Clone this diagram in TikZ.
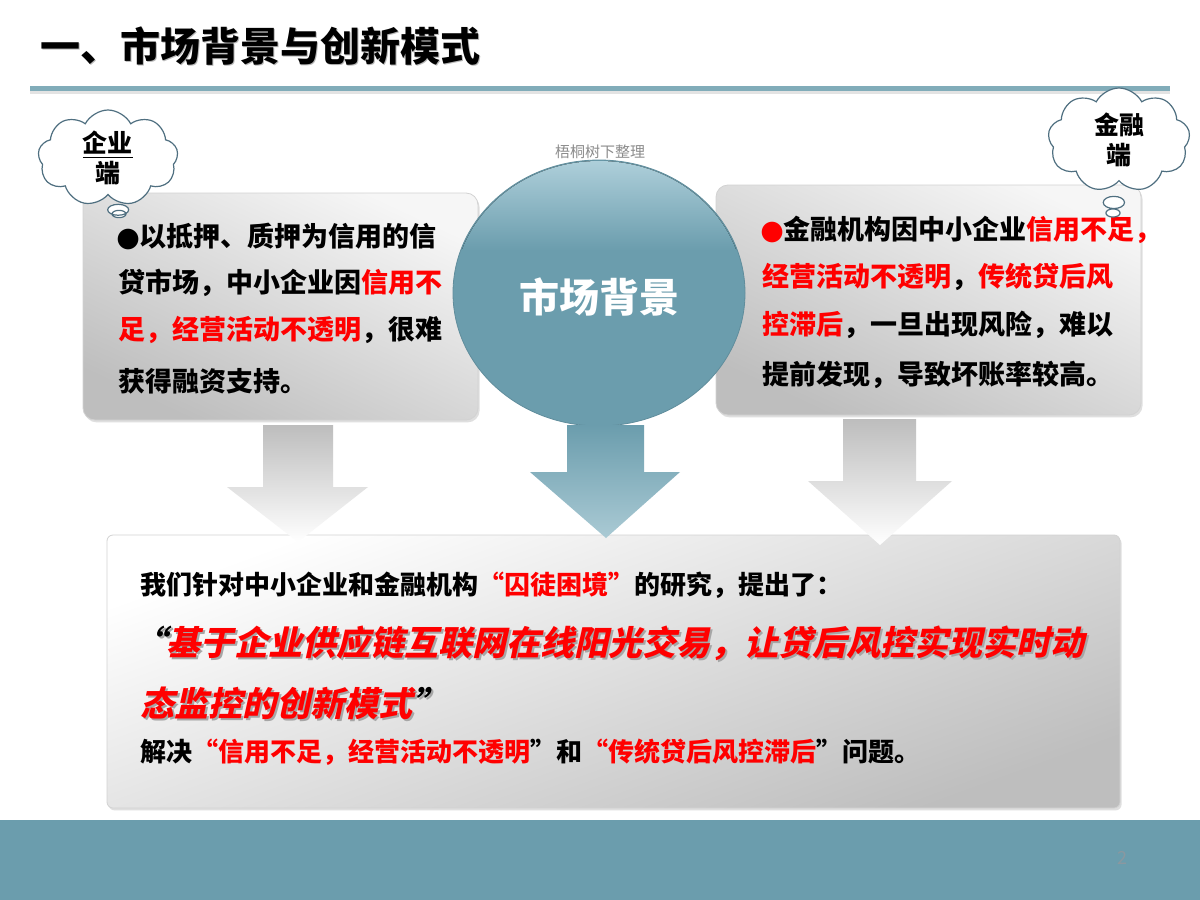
\documentclass[tikz,border=0pt]{standalone}
\usepackage{fontspec}
\setmainfont{Noto Sans CJK SC}
\newfontfamily\cjkit{Noto Sans CJK SC}[FakeSlant=0.22]
\newfontfamily\symf{DejaVu Sans}
\usetikzlibrary{shapes.callouts,shapes.symbols,shapes.geometric,shadows}
\definecolor{teal1}{HTML}{6B9DAD}
\definecolor{teallt}{HTML}{B2D2DD}
\definecolor{tealarrowlt}{HTML}{AACAD4}
\definecolor{rd}{HTML}{FF0000}
\definecolor{cloudline}{HTML}{4F6F80}
\definecolor{pgnum}{HTML}{8A98A0}
\definecolor{boxlt}{HTML}{F6F6F6}
\definecolor{boxdk}{HTML}{BEBEBE}
\definecolor{arrgray}{HTML}{BDBDBD}
\begin{document}
\begin{tikzpicture}[x=0.5pt,y=-0.5pt,
  panel/.style={draw=gray!35, line width=0.4pt, rounded corners=6pt,
    drop shadow={opacity=0.25, shadow xshift=0.8pt, shadow yshift=-1.2pt}},
  bt/.style={anchor=west, inner sep=0pt, font=\fontsize{13.5}{16}\selectfont\bfseries},
  bb/.style={anchor=west, inner sep=0pt, font=\fontsize{13}{16}\selectfont\bfseries},
  bi/.style={anchor=west, inner sep=0pt, font=\fontsize{17}{20}\selectfont\cjkit\bfseries},
  cloudbox/.style={cloud callout, draw=cloudline, line width=0.6pt, fill=white,
    cloud puffs=9, cloud puff arc=125, cloud ignores aspect,
    inner sep=0pt, align=center,
    font=\fontsize{12.5}{15}\selectfont\bfseries},
  grayarrow/.style={top color=arrgray, bottom color=white},
  tealarrow/.style={top color=teal1, bottom color=tealarrowlt}
]
\useasboundingbox (0,0) rectangle (1200,900);
\fill[white] (0,0) rectangle (1200,900);

% title
\node[anchor=west, inner sep=0pt, text=gray!55, font=\fontsize{20}{24}\selectfont\bfseries] (titleshadow) at (41.5,47.5) {一、市场背景与创新模式};
\node[anchor=west, inner sep=0pt, font=\fontsize{20}{24}\selectfont\bfseries] (title) at (40,46) {一、市场背景与创新模式};
\fill[teal1!85] (30,86) rectangle (1170,91);
\fill[gray!22] (30,91) rectangle (1170,94);

% side panels
\node[panel, top color=boxlt, bottom color=boxdk, shading angle=-25,
  minimum width=197.5pt, minimum height=113.5pt] (lbox) at (280.5,306.5) {};
\node[panel, top color=boxlt, bottom color=boxdk, shading angle=-25,
  minimum width=212.5pt, minimum height=115pt] (rbox) at (928.5,300) {};

% bottom panel
\node[panel, rounded corners=3pt, top color=white, bottom color=boxdk, shading angle=20,
  minimum width=506.5pt, minimum height=136.5pt] (bbox) at (613.5,671.5) {};

% centre circle
\node[ellipse, fill=teal1, draw=teal1!90!black, line width=0.4pt,
  minimum width=146pt, minimum height=133pt, inner sep=0pt] (circ) at (599,293) {};
\begin{scope}
  \clip (599,293) ellipse [x radius=72.5pt, y radius=66pt];
  \fill[top color=teallt, bottom color=teal1] (440,155) rectangle (760,250);
\end{scope}
\node[text=white, font=\fontsize{20}{24}\selectfont\bfseries] (circtext) at (599,297) {市场背景};
\node[text=gray!90, font=\fontsize{7.5}{9}\selectfont] (wm) at (600,152) {梧桐树下整理};

% text left
\node[bt] (l1) at (116,236) {{\symf●}以抵押、质押为信用的信};
\node[bt] (l2) at (118,283) {贷市场，中小企业因\textcolor{rd}{信用不}};
\node[bt] (l3) at (118,330) {\textcolor{rd}{足，经营活动不透明}，很难};
\node[bt] (l4) at (118,381) {获得融资支持。};

% text right
\node[bt] (r1) at (760,230) {\textcolor{rd}{\symf●}金融机构因中小企业\textcolor{rd}{信用不足，}};
\node[bt] (r2) at (762,277) {\textcolor{rd}{经营活动不透明}，\textcolor{rd}{传统贷后风}};
\node[bt] (r3) at (762,325) {\textcolor{rd}{控滞后}，一旦出现风险，难以};
\node[bt] (r4) at (762,375) {提前发现，导致坏账率较高。};

% block arrows
\path[grayarrow] (263,425) -- (333,425) -- (333,487) -- (368,487) -- (298,542) -- (227,487) -- (263,487) -- cycle;
\path[tealarrow] (567,425) -- (644,425) -- (644,472) -- (680,472) -- (606,538) -- (530,472) -- (567,472) -- cycle;
\path[grayarrow] (843,419) -- (916,419) -- (916,481) -- (952,481) -- (880,545) -- (808,481) -- (843,481) -- cycle;

% bottom text
\node[bb] (b1) at (140,585) {我们针对中小企业和金融机构\textcolor{rd}{“囚徒困境”}的研究，提出了：};
\node[bi, text=black!35] (b2s) at (134,645) {“基于企业供应链互联网在线阳光交易，让贷后风控实现实时动};
\node[bi] (b2) at (132,643) {“\textcolor{rd}{基于企业供应链互联网在线阳光交易，让贷后风控实现实时动}};
\node[bi, text=black!35] (b3s) at (142,705) {态监控的创新模式”};
\node[bi] (b3) at (140,703) {\textcolor{rd}{态监控的创新模式}”};
\node[bb] (b4) at (140,752) {解决\textcolor{rd}{“信用不足，经营活动不透明}”和\textcolor{rd}{“传统贷后风控滞后}”问题。};

% clouds
\node[cloudbox, minimum width=70pt, minimum height=48pt,
  callout absolute pointer={(119,214)}] (lcloud) at (108,158) {\underline{企业}\\端};
\node[cloudbox, minimum width=71pt, minimum height=52pt,
  callout absolute pointer={(1113,213)}] (rcloud) at (1119,140) {金融\\端};

% footer band
\fill[teal1] (0,820) rectangle (1200,900);
\node[text=pgnum, font=\fontsize{9}{11}\selectfont] (pg) at (1122,858) {2};
\end{tikzpicture}
\end{document}
